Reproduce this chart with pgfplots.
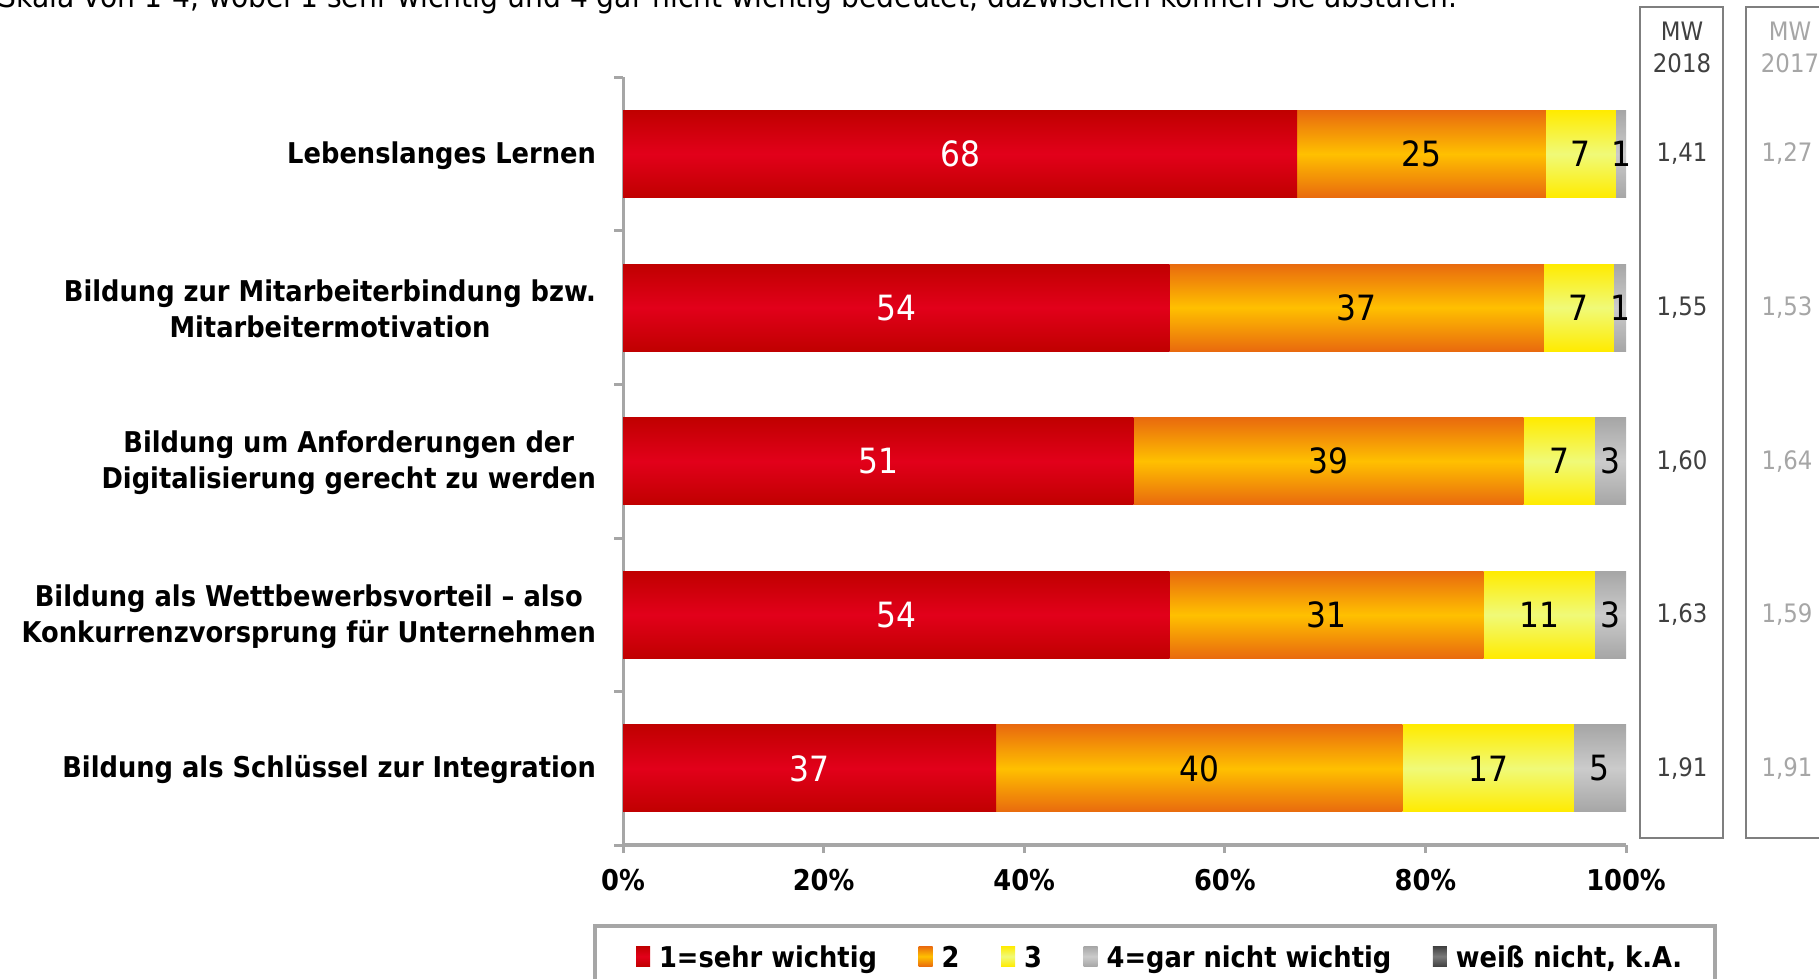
\documentclass[border=0pt]{standalone}
\usepackage{pgfplots}
\pgfplotsset{compat=1.18}
\usepackage{fontspec}
\setmainfont{DejaVu Sans}[FakeStretch=0.9]
\definecolor{axgray}{HTML}{A6A6A6}
\definecolor{redE}{HTML}{C00000}
\definecolor{redM}{HTML}{E2001A}
\definecolor{orE}{HTML}{E96A0E}
\definecolor{orM}{HTML}{FFC000}
\definecolor{yeE}{HTML}{FFEB00}
\definecolor{yeM}{HTML}{F0FA78}
\definecolor{grE}{HTML}{A6A6A6}
\definecolor{grM}{HTML}{CBCBCB}
\definecolor{dkE}{HTML}{404040}
\definecolor{dkM}{HTML}{7A7A7A}
\definecolor{mwdark}{HTML}{404040}
\definecolor{mwlight}{HTML}{A6A6A6}
\definecolor{boxgray}{HTML}{7F7F7F}
\newcommand{\lblfont}{\fontsize{14.3bp}{18bp}\selectfont\bfseries}
\newcommand{\numfont}{\fontsize{17.4bp}{20bp}\selectfont}
\newcommand{\mwfont}{\fontsize{12.7bp}{16bp}\selectfont}
\tikzset{
  sA/.style={draw=none, top color=redE, bottom color=redE, middle color=redM},
  sB/.style={draw=none, top color=orE, bottom color=orE, middle color=orM},
  sC/.style={draw=none, top color=yeE, bottom color=yeE, middle color=yeM},
  sD/.style={draw=none, top color=grE, bottom color=grE, middle color=grM},
  sE/.style={draw=none, top color=dkE, bottom color=dkE, middle color=dkM},
}
\pgfplotsset{
  geom/.style={
    at={(311.5bp,-422.6bp)}, anchor=south west,
    scale only axis, width=501.5bp, height=384bp,
    xmin=0, xmax=100, ymin=-0.5, ymax=4.5,
  },
  barax/.style={geom, xbar stacked, bar width=43.5bp},
}
\begin{document}
\begin{tikzpicture}
\useasboundingbox (0,0) rectangle (909.5bp,-489.5bp);
\node[anchor=base west, inner sep=0pt, font=\fontsize{15.65bp}{18bp}\selectfont] at (-1bp,-3.5bp) {Skala von 1-4, wobei 1 sehr wichtig und 4 gar nicht wichtig bedeutet, dazwischen können Sie abstufen.};
% MW boxes
\draw[boxgray, line width=0.75bp] (820bp,-3.5bp) rectangle (861.5bp,-419bp);
\draw[boxgray, line width=0.75bp] (873bp,-3.5bp) rectangle (940bp,-419bp);
\node[mwdark, align=center, font=\mwfont, inner sep=0pt] at (841bp,-23.5bp) {MW\\2018};
\node[mwlight, align=center, font=\mwfont, inner sep=0pt] at (895bp,-23.5bp) {MW\\2017};
% legend frame
\draw[axgray, line width=2bp] (297.5bp,-500bp) -- (297.5bp,-463bp) -- (857.5bp,-463bp) -- (857.5bp,-500bp);

% main axis: frame, ticks, labels, legend and the row "Lebenslanges Lernen"
\begin{axis}[barax,
  axis x line=bottom, axis y line=left,
  axis line style={-},
  x axis line style={axgray, line width=2bp},
  y axis line style={axgray, line width=1.5bp},
  xtick={0,20,40,60,80,100},
  xticklabels={0\%,20\%,40\%,60\%,80\%,100\%},
  xticklabel style={font=\lblfont, yshift=-4.6bp},
  ytick={0,1,2,3,4},
  yticklabels={{Bildung als Schlüssel zur Integration},
    {Bildung als Wettbewerbsvorteil – also\\Konkurrenzvorsprung für Unternehmen},
    {Bildung um Anforderungen der\\Digitalisierung gerecht zu werden},
    {Bildung zur Mitarbeiterbindung bzw.\\Mitarbeitermotivation},
    {Lebenslanges Lernen}},
  yticklabel style={font=\lblfont, align=center, xshift=-6bp, yshift=-0.8bp},
  minor ytick={-0.5,0.5,1.5,2.5,3.5,4.5},
  tick align=outside, major tick length=4bp, minor tick length=4.5bp,
  major x tick style={axgray, line width=1.5bp},
  major y tick style={draw=none},
  minor y tick style={axgray, line width=1.5bp},
  legend columns=5,
  legend image code/.code={\path[#1] (0bp,-4.2bp) rectangle (7bp,6.0bp);},
  legend style={draw=none, fill=none, at={(0.013,-0.1471)}, anchor=west,
    inner sep=0pt, outer sep=0pt, font=\lblfont,
    nodes={inner sep=0pt},
    /tikz/every odd column/.append style={column sep=4.5bp},
    /tikz/every even column/.append style={column sep=20.8bp}},
]
\addplot[sA] coordinates {(67.2,4)};
\addlegendentry{1=sehr wichtig}
\addplot[sB] coordinates {(24.8,4)};
\addlegendentry{2}
\addplot[sC] coordinates {(7.0,4)};
\addlegendentry{3}
\addplot[sD] coordinates {(1.0,4)};
\addlegendentry{4=gar nicht wichtig}
\addlegendimage{sE}
\addlegendentry{weiß nicht, k.A.}
\end{axis}

% Bildung zur Mitarbeiterbindung bzw. Mitarbeitermotivation
\begin{axis}[barax, hide axis]
\addplot[sA] coordinates {(54.5,3)};
\addplot[sB] coordinates {(37.3,3)};
\addplot[sC] coordinates {(7.0,3)};
\addplot[sD] coordinates {(1.2,3)};
\end{axis}
% Bildung um Anforderungen der Digitalisierung gerecht zu werden
\begin{axis}[barax, hide axis]
\addplot[sA] coordinates {(50.9,2)};
\addplot[sB] coordinates {(38.9,2)};
\addplot[sC] coordinates {(7.1,2)};
\addplot[sD] coordinates {(3.1,2)};
\end{axis}
% Bildung als Wettbewerbsvorteil
\begin{axis}[barax, hide axis]
\addplot[sA] coordinates {(54.5,1)};
\addplot[sB] coordinates {(31.3,1)};
\addplot[sC] coordinates {(11.1,1)};
\addplot[sD] coordinates {(3.1,1)};
\end{axis}
% Bildung als Schluessel zur Integration
\begin{axis}[barax, hide axis]
\addplot[sA] coordinates {(37.2,0)};
\addplot[sB] coordinates {(40.5,0)};
\addplot[sC] coordinates {(17.1,0)};
\addplot[sD] coordinates {(5.2,0)};
\end{axis}

% value labels and mean values
\begin{axis}[geom, hide axis, clip=false]
\addplot[draw=none, mark=none, nodes near coords, point meta=explicit symbolic,
  nodes near coords style={anchor=center, text=white, font=\numfont}]
  coordinates {(18.6,0) [37] (27.25,1) [54] (25.45,2) [51] (27.25,3) [54] (33.6,4) [68]};
\addplot[draw=none, mark=none, nodes near coords, point meta=explicit symbolic,
  nodes near coords style={anchor=center, text=black, font=\numfont}]
  coordinates {(57.45,0) [40] (70.15,1) [31] (70.35,2) [39] (73.15,3) [37] (79.6,4) [25]
               (86.25,0) [17] (91.35,1) [11] (93.35,2) [7] (95.3,3) [7] (95.5,4) [7]
               (97.4,0) [5] (98.45,1) [3] (98.45,2) [3] (99.4,3) [1] (99.5,4) [1]};
\addplot[draw=none, mark=none, nodes near coords, point meta=explicit symbolic,
  nodes near coords style={anchor=center, text=mwdark, font=\mwfont}]
  coordinates {(105.58,0) [1,91] (105.58,1) [1,63] (105.58,2) [1,60] (105.58,3) [1,55] (105.58,4) [1,41]};
\addplot[draw=none, mark=none, nodes near coords, point meta=explicit symbolic,
  nodes near coords style={anchor=center, text=mwlight, font=\mwfont}]
  coordinates {(116.05,0) [1,91] (116.05,1) [1,59] (116.05,2) [1,64] (116.05,3) [1,53] (116.05,4) [1,27]};
\end{axis}
\end{tikzpicture}
\end{document}
